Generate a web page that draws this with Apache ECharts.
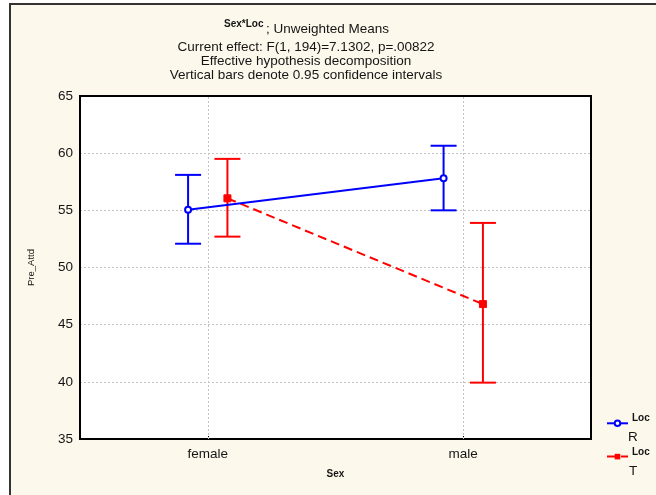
<!DOCTYPE html>
<html>
<head>
<meta charset="utf-8">
<script src="https://cdn.jsdelivr.net/npm/echarts@6/dist/echarts.min.js"></script>
<style>
  html, body { margin: 0; padding: 0; background: #ffffff; }
  #chart { width: 656px; height: 495px; }
</style>
</head>
<body>
<div id="chart"></div>
<script>
// Groups on the x axis and the factor levels shown as series
const categories = ['female', 'male'];
const locLevels = ['R', 'T'];

// Unweighted means of Pre_Attd with 0.95 confidence limits
const meansR = [55.05, 57.8];
const lowerR = [52.08, 55.0];
const upperR = [58.1, 60.65];

const meansT = [56.05, 46.8];
const lowerT = [52.7, 39.93];
const upperT = [59.5, 53.9];

// Y axis ticks
const yTicks = [35, 40, 45, 50, 55, 60, 65];

// Horizontal dodge of each level around its category (category units)
const dodge = { R: -0.077, T: 0.077 };

const FONT = 'Liberation Sans, Arial, sans-serif';
const BLUE = '#0000ff';
const RED = '#ff0000';
const INK = '#151515';
const GRID = { color: '#c4c4c4', type: [2, 2], width: 1 };

function points(means, level) {
  return means.map((m, i) => [i + dodge[level], m]);
}
function bars(lower, upper, level) {
  return lower.map((lo, i) => [i + dodge[level], lo, upper[i]]);
}

function errorBar(color) {
  return function (params, api) {
    const x = api.value(0);
    const lo = api.coord([x, api.value(1)]);
    const hi = api.coord([x, api.value(2)]);
    const cap = 13;
    const style = { stroke: color, lineWidth: 2 };
    return {
      type: 'group',
      children: [
        { type: 'line', shape: { x1: lo[0], y1: lo[1], x2: hi[0], y2: hi[1] }, style },
        { type: 'line', shape: { x1: lo[0] - cap, y1: lo[1], x2: lo[0] + cap, y2: lo[1] }, style },
        { type: 'line', shape: { x1: hi[0] - cap, y1: hi[1], x2: hi[0] + cap, y2: hi[1] }, style }
      ]
    };
  };
}

function label(text, x, y, font, align) {
  return {
    type: 'text', x, y, silent: true,
    style: { text, font: font + ' ' + FONT, fill: INK, textAlign: align || 'left', textVerticalAlign: 'middle' }
  };
}

const chart = echarts.init(document.getElementById('chart'), null, { renderer: 'canvas' });

chart.setOption({
  animation: false,
  backgroundColor: '#ffffff',
  textStyle: { fontFamily: FONT },
  graphic: [
    {
      type: 'rect', z: -10, silent: true,
      shape: { x: 10, y: 4, width: 700, height: 600 },
      style: { fill: '#fdf8ec', stroke: '#333333', lineWidth: 2 }
    },
    // header
    label('Sex*Loc', 224, 24, 'bold 10px'),
    label('; Unweighted Means', 266, 29, '13.5px'),
    label('Current effect: F(1, 194)=7.1302, p=.00822', 306, 47, '13.5px', 'center'),
    label('Effective hypothesis decomposition', 306, 61.5, '13.5px', 'center'),
    label('Vertical bars denote 0.95 confidence intervals', 306, 75.5, '13.5px', 'center'),
    // legend captions
    label('Loc', 632, 418, 'bold 10px'),
    label(locLevels[0], 628, 437, '13.5px'),
    label('Loc', 632, 452, 'bold 10px'),
    label(locLevels[1], 629, 471, '13.5px')
  ],
  grid: {
    left: 80, top: 96, right: 65, bottom: 56,
    show: true, backgroundColor: '#ffffff', borderColor: '#000000', borderWidth: 2
  },
  legend: {
    orient: 'vertical',
    left: 606, top: 419.5,
    padding: 0,
    itemWidth: 21, itemHeight: 7, itemGap: 26,
    data: locLevels,
    formatter: () => '',
    textStyle: { fontSize: 7 }
  },
  xAxis: [
    {
      type: 'category',
      data: categories,
      boundaryGap: true,
      name: 'Sex',
      nameLocation: 'middle',
      nameGap: 30,
      nameTextStyle: { fontSize: 10, fontWeight: 'bold', color: INK, fontFamily: FONT },
      axisLine: { lineStyle: { color: '#000', width: 2 } },
      axisTick: { show: true, alignWithLabel: true, inside: true, length: 3, lineStyle: { color: '#000' } },
      axisLabel: { fontSize: 13.5, color: INK, margin: 8, fontFamily: FONT },
      splitLine: { show: false }
    },
    {
      type: 'value',
      min: -0.5, max: 1.5,
      show: false,
      splitLine: { show: false }
    }
  ],
  yAxis: {
    type: 'value',
    min: yTicks[0], max: yTicks[yTicks.length - 1], interval: 5,
    name: 'Pre_Attd',
    nameLocation: 'middle',
    nameGap: 44,
    nameTextStyle: { fontSize: 9.5, color: INK, fontFamily: FONT },
    axisLine: { show: true, onZero: false, lineStyle: { color: '#000', width: 2 } },
    axisTick: { show: false },
    axisLabel: { fontSize: 13.5, color: INK, margin: 7, fontFamily: FONT },
    splitLine: { show: true, showMinLine: false, showMaxLine: false, lineStyle: GRID }
  },
  series: [
    {
      name: 'T limits',
      type: 'custom',
      xAxisIndex: 1,
      renderItem: errorBar(RED),
      data: bars(lowerT, upperT, 'T'),
      z: 2
    },
    {
      name: 'R limits',
      type: 'custom',
      xAxisIndex: 1,
      renderItem: errorBar(BLUE),
      data: bars(lowerR, upperR, 'R'),
      z: 2,
      // vertical grid lines through the category centres
      markLine: {
        silent: true,
        symbol: 'none',
        label: { show: false },
        lineStyle: GRID,
        z: 1,
        data: categories.map((c, i) => ({ xAxis: i }))
      }
    },
    {
      name: 'T',
      type: 'line',
      xAxisIndex: 1,
      data: points(meansT, 'T'),
      symbol: 'rect',
      symbolSize: 7,
      lineStyle: { color: RED, width: 2, type: [9, 5] },
      itemStyle: { color: RED, borderColor: RED },
      z: 3
    },
    {
      name: 'R',
      type: 'line',
      xAxisIndex: 1,
      data: points(meansR, 'R'),
      symbol: 'emptyCircle',
      symbolSize: 6,
      lineStyle: { color: BLUE, width: 2 },
      itemStyle: { color: BLUE, borderColor: BLUE, borderWidth: 2 },
      z: 4
    }
  ]
});
</script>
</body>
</html>
